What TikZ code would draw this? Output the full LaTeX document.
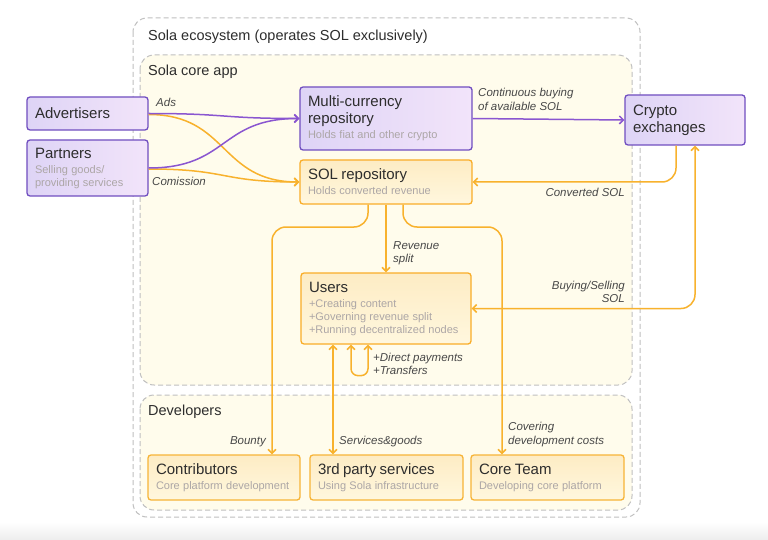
\documentclass[tikz,border=0pt]{standalone}
\usepackage{fontspec}
\setmainfont{Liberation Sans}
\usetikzlibrary{arrows.meta}

\definecolor{ink}{RGB}{45,45,45}
\definecolor{subg}{RGB}{172,166,166}
\definecolor{lblc}{RGB}{72,72,72}
\definecolor{dashg}{RGB}{192,192,192}
\definecolor{corefill}{RGB}{255,252,236}
\definecolor{purpl}{RGB}{222,212,246}
\definecolor{purpr}{RGB}{242,228,250}
\definecolor{purpd}{RGB}{112,78,192}
\definecolor{purpln}{RGB}{138,86,208}
\definecolor{yelll}{RGB}{253,236,196}
\definecolor{yellr}{RGB}{255,247,222}
\definecolor{orngd}{RGB}{247,180,55}
\definecolor{orng}{RGB}{248,178,45}

\newcommand\ttl[1]{{\fontsize{15}{17}\selectfont\color{ink}#1\par}}
\newcommand\subt[1]{{\vskip2pt\fontsize{11}{13}\selectfont\color{subg}#1\par}}

\begin{document}
\begin{tikzpicture}[x=1pt, y=-1pt,
  region/.style={draw=dashg, line width=1pt, dash pattern=on 5pt off 3pt, rounded corners=14pt},
  rtitle/.style={anchor=west, inner sep=0pt, text=ink, font=\fontsize{14.5}{17}\selectfont},
  pbox/.style={draw=purpd, line width=1.3pt, left color=purpl, right color=purpr, rounded corners=3pt, align=left, inner xsep=8pt, inner ysep=4pt},
  ybox/.style={draw=orngd, line width=1.3pt, top color=yelll, bottom color=yellr, rounded corners=3pt, align=left, inner xsep=8pt, inner ysep=4pt},
  lbl/.style={inner sep=0pt, align=left, text=lblc, font=\fontsize{11.5}{13.5}\selectfont\itshape},
  flow/.style={draw=orng, line width=1.5pt},
  pflow/.style={draw=purpln, line width=1.5pt},
  >={Straight Barb[length=4pt,width=8pt]}]
  \useasboundingbox (0,0) rectangle (768,540);
  \fill[white] (0,0) rectangle (768,540);
  \shade[top color=white, bottom color=black!7] (0,522) rectangle (768,540);

  \draw[region, fill=white] (133,18) rectangle (640,517);
  \draw[region, fill=corefill] (140,55) rectangle (632,385);
  \draw[region, fill=corefill] (140,395) rectangle (632,510);
  \node[rtitle] (ecot) at (148,37) {Sola ecosystem (operates SOL exclusively)};
  \node[rtitle] (coret) at (148,72) {Sola core app};
  \node[rtitle] (devt) at (148,412) {Developers};

  \node[pbox, text width=105pt, minimum height=33pt] (adv) at (87.5,113.5) {\ttl{Advertisers}};
  \node[pbox, text width=105pt, minimum height=56pt] (part) at (87.5,168) {\ttl{Partners}\subt{Selling goods/\\providing services}};
  \node[pbox, text width=156pt, minimum height=63pt] (multi) at (386,118.5) {\ttl{Multi-currency\\repository}\subt{Holds fiat and other crypto}};
  \node[ybox, draw=orng!90!orange, text width=156pt, minimum height=44pt] (solrepo) at (386,182) {\ttl{SOL repository}\subt{Holds converted revenue}};
  \node[pbox, text width=104pt, minimum height=50pt] (crypto) at (685,120) {\ttl{Crypto\\exchanges}};
  \node[ybox, draw=orng!90!orange, text width=154pt, minimum height=71pt] (users) at (386,308.5) {\ttl{Users}\subt{+Creating content\\+Governing revenue split\\+Running decentralized nodes}};
  \node[ybox, text width=136pt, minimum height=45pt] (contrib) at (224,477.5) {\ttl{Contributors}\subt{Core platform development}};
  \node[ybox, text width=137pt, minimum height=45pt] (third) at (386.5,477.5) {\ttl{3rd party services}\subt{Using Sola infrastructure}};
  \node[ybox, text width=137pt, minimum height=45pt] (core) at (547.5,477.5) {\ttl{Core Team}\subt{Developing core platform}};

  \draw[flow, ->] ([yshift=-1pt]adv.east) .. controls +(80,0) and +(-80,0) .. (solrepo.west);
  \draw[flow, ->] ([yshift=-1pt]part.east) .. controls +(80,0) and +(-80,0) .. (solrepo.west);
  \draw[pflow, ->] (adv.east) .. controls +(80,0) and +(-80,0) .. (multi.west);
  \draw[pflow, ->] (part.east) .. controls +(80,0) and +(-80,0) .. (multi.west);
  \node[lbl, anchor=west] (ads) at (156,102) {Ads};
  \node[lbl, anchor=west] (comm) at (152,181) {Comission};

  \draw[pflow, ->] (multi.east) -- (crypto.west);
  \node[lbl, anchor=north west] (cont) at (478,88) {Continuous buying\\of available SOL};

  \draw[flow, ->, rounded corners=14pt] ([xshift=-9pt]crypto.south) |- (solrepo.east);
  \node[lbl, anchor=north east, align=right] (conv) at (625,188) {Converted SOL};
  \draw[flow, <->, rounded corners=14pt] (users.east) -| ([xshift=10pt]crypto.south);
  \node[lbl, anchor=south east, align=right] (buy) at (625,303) {Buying/Selling\\SOL};

  \draw[flow, ->] (solrepo.south) -- (users.north);
  \node[lbl, anchor=west] (rev) at (393,253) {Revenue\\split};

  \coordinate (b1) at ([xshift=-18pt]solrepo.south);
  \coordinate (bt) at (272,227);
  \draw[flow, ->, rounded corners=14pt] (b1) |- (bt) -- (bt |- contrib.north);
  \node[lbl, anchor=south east] (bnty) at (266,447) {Bounty};

  \coordinate (c1) at ([xshift=17pt]solrepo.south);
  \coordinate (ct) at (502,227);
  \draw[flow, ->, rounded corners=14pt] (c1) |- (ct) -- (ct |- core.north);
  \node[lbl, anchor=south west] (cov) at (508,447) {Covering\\development costs};

  \coordinate (sg) at ([xshift=-53pt]users.south);
  \draw[flow, <->] (sg) -- (sg |- third.north);
  \node[lbl, anchor=south west] (serv) at (339,447) {Services\&goods};

  \coordinate (l1) at ([xshift=-35pt]users.south);
  \coordinate (l2) at ([xshift=-18pt]users.south);
  \draw[flow, <->, rounded corners=7pt] (l1) -- ++(0,31) -| (l2);
  \node[lbl, anchor=west] (dir) at (373,364) {+Direct payments\\+Transfers};
\end{tikzpicture}
\end{document}
